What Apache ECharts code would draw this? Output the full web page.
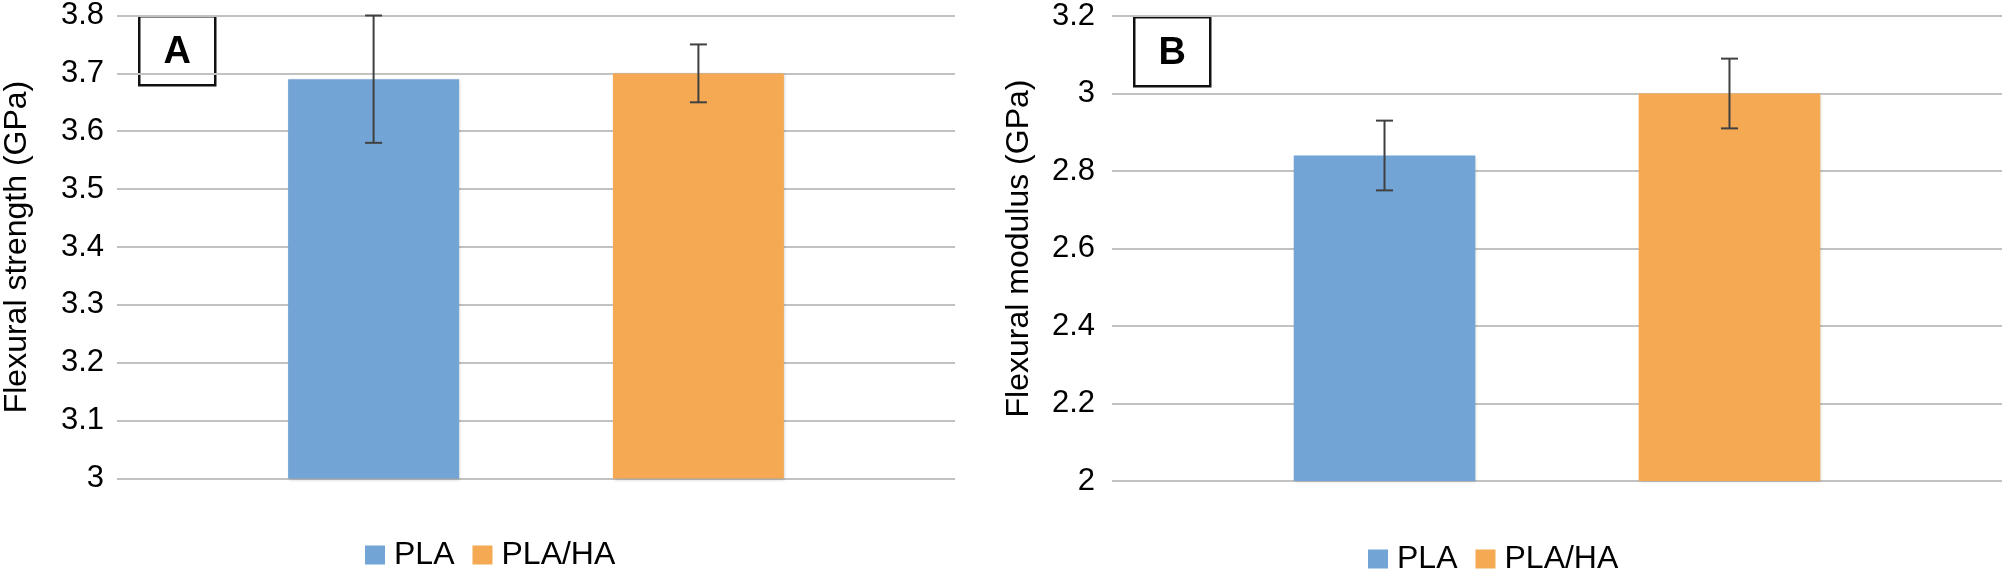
<!DOCTYPE html>
<html>
<head>
<meta charset="utf-8">
<title>Flexural strength and modulus</title>
<script src="https://cdn.jsdelivr.net/npm/echarts@6/dist/echarts.min.js"></script>
<style>
  html, body { margin: 0; padding: 0; background: #fff; }
  #chart { width: 2008px; height: 577px; }
</style>
</head>
<body>
<div id="chart"></div>
<script>
// groups shown in both panels
const groups = ['PLA', 'PLA/HA'];
const groupColors = ['#72A4D6', '#F5A953'];

// panel A: flexural strength (GPa), mean and +/- error
const strengthMean = [3.69, 3.70];
const strengthErr = [0.11, 0.05];
const strengthTicks = { min: 3, max: 3.8, interval: 0.1 };

// panel B: flexural modulus (GPa)
const modulusMean = [2.84, 3.00];
const modulusErr = [0.09, 0.09];
const modulusTicks = { min: 2, max: 3.2, interval: 0.2 };

const FONT = '"Liberation Sans", Arial, Helvetica, sans-serif';
const BAR_WIDTH = 0.204; // share of the category band
const BAR_GAP = 0.9;

const myChart = echarts.init(document.getElementById('chart'));

function errorBar(params, api) {
  const side = api.value(3);
  const band = api.size([1, 0])[0];
  const dx = side * band * BAR_WIDTH * (1 + BAR_GAP) / 2;
  const hi = api.coord([api.value(0), api.value(2)]);
  const lo = api.coord([api.value(0), api.value(1)]);
  const x = hi[0] + dx;
  const cap = 8.5;
  const style = { stroke: '#404040', lineWidth: 2 };
  return {
    type: 'group',
    children: [
      { type: 'line', shape: { x1: x, y1: hi[1], x2: x, y2: lo[1] }, style },
      { type: 'line', shape: { x1: x - cap, y1: hi[1], x2: x + cap, y2: hi[1] }, style },
      { type: 'line', shape: { x1: x - cap, y1: lo[1], x2: x + cap, y2: lo[1] }, style },
    ],
  };
}

function yAxis(gridIndex, ticks, name, nameGap, margin) {
  return {
    type: 'value',
    gridIndex,
    min: ticks.min,
    max: ticks.max,
    interval: ticks.interval,
    name,
    nameLocation: 'middle',
    nameGap,
    nameTextStyle: { fontFamily: FONT, fontSize: 32, color: '#000' },
    axisLine: { show: false },
    axisTick: { show: false },
    axisLabel: { fontFamily: FONT, fontSize: 31, color: '#000', margin },
    splitLine: { lineStyle: { color: '#c2c2c2', width: 2 } },
  };
}

function xAxis(gridIndex) {
  return {
    type: 'category',
    gridIndex,
    data: ['all'],
    axisLine: { show: false },
    axisTick: { show: false },
    axisLabel: { show: false },
    splitLine: { show: false },
  };
}

const series = [];
[[strengthMean, strengthErr], [modulusMean, modulusErr]].forEach((pair, k) => {
  const [mean, err] = pair;
  groups.forEach((g, i) => {
    series.push({
      name: g,
      type: 'bar',
      xAxisIndex: k,
      yAxisIndex: k,
      barWidth: `${BAR_WIDTH * 100}%`,
      barGap: `${BAR_GAP * 100}%`,
      itemStyle: {
        color: groupColors[i],
        shadowBlur: 3,
        shadowColor: 'rgba(0,0,0,0.18)',
        shadowOffsetX: 1,
        shadowOffsetY: 1,
      },
      data: [mean[i]],
    });
  });
  series.push({
    type: 'custom',
    xAxisIndex: k,
    yAxisIndex: k,
    renderItem: errorBar,
    z: 5,
    data: groups.map((g, i) => [0, mean[i] - err[i], mean[i] + err[i], i === 0 ? -1 : 1]),
  });
});

function legend(left, top) {
  return {
    left,
    top,
    data: groups,
    icon: 'rect',
    itemWidth: 20,
    itemHeight: 19,
    itemGap: 18,
    selectedMode: false,
    textStyle: { fontFamily: FONT, fontSize: 32, color: '#000', padding: [0, 0, 0, 4] },
  };
}

function panelTag(letter, x, y) {
  return {
    type: 'group',
    left: x,
    top: y,
    children: [
      { type: 'rect', shape: { x: 0, y: 0, width: 76, height: 69 }, style: { fill: '#fff', stroke: '#111', lineWidth: 2.5 } },
      {
        type: 'text',
        x: 38,
        y: 36,
        style: { text: letter, fontFamily: FONT, fontSize: 38, fontWeight: 'bold', fill: '#000', align: 'center', verticalAlign: 'middle' },
      },
    ],
  };
}

const option = {
  animation: false,
  backgroundColor: '#fff',
  grid: [
    { left: 117, top: 15.5, width: 838, height: 463 },
    { left: 1112, top: 16, width: 890, height: 465 },
  ],
  xAxis: [xAxis(0), xAxis(1)],
  yAxis: [
    yAxis(0, strengthTicks, 'Flexural strength (GPa)', 84, 13),
    yAxis(1, modulusTicks, 'Flexural modulus (GPa)', 77, 17),
  ],
  legend: [legend(360, 534), legend(1363, 538)],
  graphic: [panelTag('A', 138, 15), panelTag('B', 1133, 16)],
  series,
};

myChart.setOption(option, true);
</script>
</body>
</html>
